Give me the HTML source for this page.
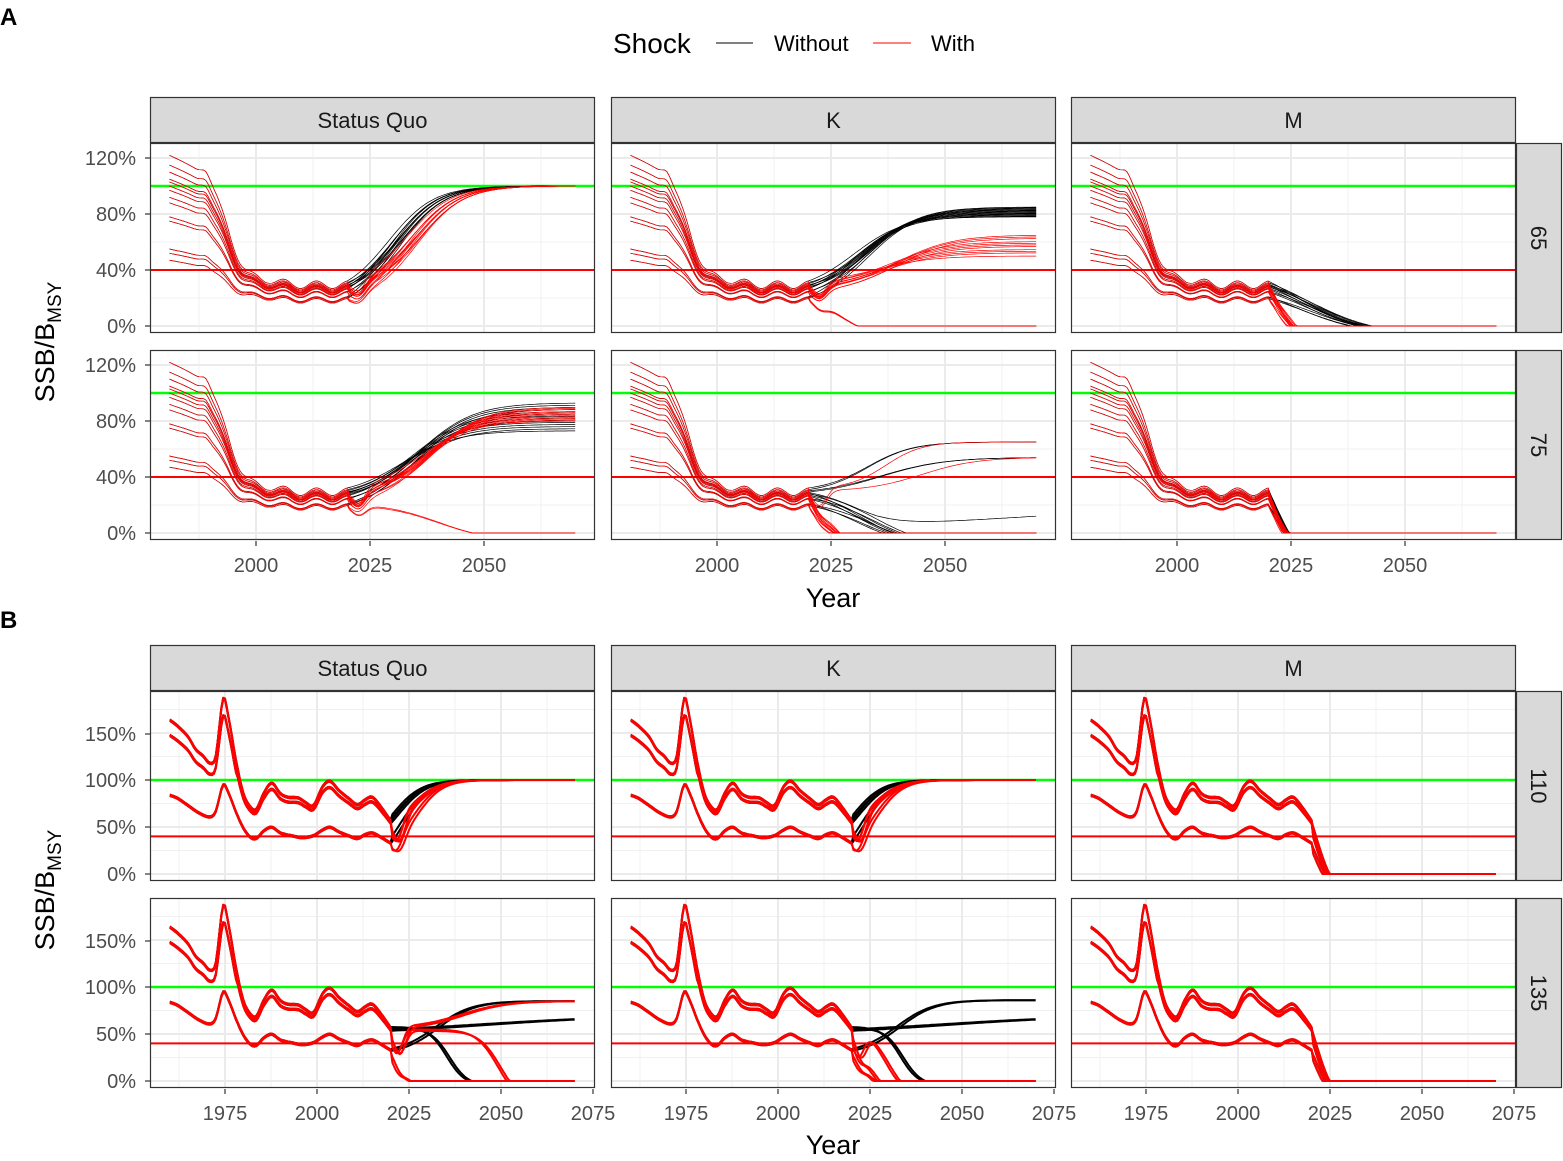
<!DOCTYPE html>
<html><head><meta charset="utf-8">
<style>
html,body{margin:0;padding:0;background:#fff;}
svg text{font-family:"Liberation Sans",Arial,sans-serif;}
</style></head>
<body>
<svg id="s" width="1563" height="1156" viewBox="0 0 1563 1156" xmlns="http://www.w3.org/2000/svg">
<text x="0" y="25" font-size="24" font-weight="bold">A</text>
<text x="0" y="628" font-size="24" font-weight="bold">B</text>
<text x="613" y="53" font-size="28">Shock</text>
<line x1="716" y1="43" x2="753" y2="43" stroke="#000" stroke-width="1"/>
<text x="774" y="51" font-size="22">Without</text>
<line x1="873" y1="43" x2="911" y2="43" stroke="#f00" stroke-width="1"/>
<text x="931" y="51" font-size="22">With</text>
<text x="833" y="607" font-size="27" text-anchor="middle">Year</text>
<text x="833" y="1154" font-size="27" text-anchor="middle">Year</text>
<text transform="translate(54,342) rotate(-90)" font-size="27" text-anchor="middle">SSB/B<tspan font-size="19" dy="7">MSY</tspan></text>
<text transform="translate(54,890) rotate(-90)" font-size="27" text-anchor="middle">SSB/B<tspan font-size="19" dy="7">MSY</tspan></text>
<g id="g"></g>
</svg>
<script>
(function(){
var NS="http://www.w3.org/2000/svg",G=document.getElementById('g');
function el(t,a,txt){var e=document.createElementNS(NS,t);for(var k in a)e.setAttribute(k,a[k]);if(txt!==undefined)e.textContent=txt;G.appendChild(e);return e;}
var cols=[150,611,1071],W=445,H=190;
var names=["Status Quo","K","M"];
function L(t,tm,s){return 1/(1+Math.exp(-(t-tm)/s));}
function proj(t,V0,target,tm,s,dip){var L0=L(2020,tm,s);var f=(L(t,tm,s)-L0)/(1-L0);var v=V0+(target-V0)*f;if(dip)v-=dip*V0*Math.exp(-Math.pow((t-2022.5)/2.2,2));return Math.max(0,v);}
function catmull(pts,t){var i=0;while(i<pts.length-2&&t>pts[i+1][0])i++;var p0=pts[Math.max(0,i-1)],p1=pts[i],p2=pts[i+1],p3=pts[Math.min(pts.length-1,i+2)];var u=(t-p1[0])/(p2[0]-p1[0]);var m1=(p2[1]-p0[1])/(p2[0]-p0[0])*(p2[0]-p1[0]),m2=(p3[1]-p1[1])/(p3[0]-p1[0])*(p2[0]-p1[0]);var u2=u*u,u3=u2*u;return (2*u3-3*u2+1)*p1[1]+(u3-2*u2+u)*m1+(-2*u3+3*u2)*p2[1]+(u3-u2)*m2;}

function panel(x0,ty,isA){
  el('rect',{x:x0,y:ty,width:W,height:H,fill:'#fff'});
  var xf,yf,maj,minr,ymaj,ymin;
  if(isA){xf=function(y){return x0+(y-1976.75)*4.56};yf=function(v){return ty+183-v*1.4};
    maj=[2000,2025,2050];minr=[1987.5,2012.5,2037.5,2062.5];ymaj=[0,40,80,120];ymin=[20,60,100];}
  else{xf=function(y){return x0+(y-1954.62)*3.68};yf=function(v){return ty+183-v*0.94};
    maj=[1975,2000,2025,2050];minr=[1962.5,1987.5,2012.5,2037.5,2062.5];ymaj=[0,50,100,150];ymin=[25,75,125,175];}
  minr.forEach(function(y){el('line',{x1:xf(y),x2:xf(y),y1:ty,y2:ty+H,stroke:'#f0f0f0','stroke-width':1});});
  ymin.forEach(function(v){el('line',{x1:x0,x2:x0+W,y1:yf(v),y2:yf(v),stroke:'#f0f0f0','stroke-width':1});});
  maj.forEach(function(y){el('line',{x1:xf(y),x2:xf(y),y1:ty,y2:ty+H,stroke:'#ebebeb','stroke-width':2});});
  ymaj.forEach(function(v){el('line',{x1:x0,x2:x0+W,y1:yf(v),y2:yf(v),stroke:'#ebebeb','stroke-width':2});});
  el('line',{x1:x0,x2:x0+W,y1:yf(100),y2:yf(100),stroke:'#00ff00','stroke-width':2.5});
  el('line',{x1:x0,x2:x0+W,y1:yf(40),y2:yf(40),stroke:'#ff0000','stroke-width':2});
  return {xf:xf,yf:yf};
}
function poly(f,series,color,w){var p=[];series.forEach(function(d){p.push(f.xf(d[0]).toFixed(1)+','+f.yf(d[1]).toFixed(1));});
  el('polyline',{points:p.join(' '),fill:'none',stroke:color,'stroke-width':w,'stroke-linejoin':'round'});}

var S=[122,115,110,105,103,100,97,92,88,78,75,55,52,47];
function histA(i,t){var s=S[i],P=12+s*0.17;var hi=s*(1-0.012*(t-1981))+4*Math.exp(-Math.pow((t-1989)/1.3,2))*(s/100);
  var sm=L(t,1994,1.8);var v=P+(hi-P)*(1-sm);
  v+=sm*(2.5*Math.sin(2*Math.PI*(t-1997.5)/7)*(P/30)+(t>2003?-3*(P/30)*Math.min(1,(t-2003)/5):0));
  return v;}
function rA(i){return ((i*37)%14)/13;}
var specA={
 '0_0':function(i,sh,V0,t){var r=rA(i);return sh?proj(t,V0,100,2033+3*r,5,0.3):proj(t,V0,100,2029+3*r,5,0);},
 '0_1':function(i,sh,V0,t){var r=rA(i);if(!sh)return proj(t,V0,78+7*r,2030+4*r,5.5,0);
   if(i>=11)return proj(t,V0,-8,2026,4,0.25);return proj(t,V0,50+15*r,2035+5*r,6,0.3);},
 '0_2':function(i,sh,V0,t){var r=rA(i);return sh?proj(t,V0,-20,2022+2*r,3,0.1):proj(t,V0,-6,2026+4*r,7,0);},
 '1_0':function(i,sh,V0,t){var r=rA(i);if(!sh)return proj(t,V0,73+20*r,2032+4*r,6,0);
   if(i>=12)return proj(t,V0,-6,2040,6,0.35);return proj(t,V0,80+10*r,2036+3*r,5.5,0.35);},
 '1_1':function(i,sh,V0,t){var r=rA(i);if(!sh){if(i<2)return proj(t,V0,65,2033,5,0);if(i<4)return proj(t,V0,54,2036,7,0);if(i==4)return proj(t,V0,5,2030,5,0)+Math.max(0,(t-2035)*0.2);return proj(t,V0,-10,2030+5*r,6,0);}
   if(i==0)return proj(t,V0,65,2037,4,0.4);if(i==2)return proj(t,V0,54,2045,6,0.4);return proj(t,V0,-15,2022+2*r,3,0.2);},
 '1_2':function(i,sh,V0,t){var r=rA(i);return proj(t,V0,-20,2021+1.5*r,2.5,sh?0.1:0);}
};
for(var row=0;row<2;row++){for(var c=0;c<3;c++){
  var ty=[143,350][row],x0=cols[c];var f=panel(x0,ty,true);var fn=specA[row+'_'+c];
  ['#000','#f00'].forEach(function(col,sh){for(var i=0;i<14;i++){var pts=[];for(var t=1981;t<=2070.01;t+=0.5){var v;if(t<=2020)v=histA(i,t);else v=fn(i,sh,histA(i,2020),t);pts.push([t,v]);}poly(f,pts,col,0.7);}});
  el('rect',{x:x0+0.5,y:ty+0.5,width:W-1,height:H-1,fill:'none',stroke:'#333','stroke-width':1.2});
}}
var topK=[[1960,163],[1962,157],[1965,145],[1967,132],[1969,125],[1971,117],[1972.5,125],[1974.5,186],[1976,165],[1978,120],[1980,85],[1982,70],[1983.5,68],[1985.5,85],[1987.7,96],[1990,85],[1992,81],[1995,80],[1997,75],[1999,72],[2001.5,92],[2003.5,98],[2006,88],[2008.5,80],[2011,73],[2013,78],[2015,81],[2017.5,70],[2020,56]];
var lowK=[[1960,83],[1962,80],[1965,72],[1968,64],[1971,60],[1972.5,66],[1974.5,94],[1976,85],[1978,65],[1980,48],[1982,38],[1983.5,37],[1985.5,45],[1987.7,49],[1990,43],[1993,40],[1996,38],[1999,40],[2001.5,46],[2003.5,49],[2006,44],[2008.5,40],[2011,37],[2013,41],[2015,43],[2017.5,38],[2020,32]];
function histB(k,t){if(k==0)return catmull(topK,t);if(k==1)return catmull(topK,t)*0.9+(t>1978?3:0);return catmull(lowK,t);}
var specB={
 '0_0':function(k,sh,V0,t){return sh?proj(t,V0,100,2027,3.5,0.45):proj(t,V0,100,2021+k,4,0);},
 '0_2':function(k,sh,V0,t){return proj(t,V0,-30,2020.5,3,0);},
 '1_0':function(k,sh,V0,t){if(!sh){if(k==0)return proj(t,V0,-5,2036,2.5,0);if(k==1)return proj(t,V0,70,2045,20,0);return proj(t,V0,85,2033,5,0);}
   if(k==0)return proj(t,V0,85,2040,6,0.5);if(k==1)return proj(t,V0,-25,2050,3,0.45);return proj(t,V0,-15,2023,2.5,0.3);},
 '1_1':function(k,sh,V0,t){if(!sh){if(k==0)return proj(t,V0,-5,2034,2.5,0);if(k==1)return proj(t,V0,70,2045,20,0);return proj(t,V0,86,2033,5,0);}
   if(k==0)return proj(t,V0,-20,2030,3,0.5);return proj(t,V0,-15,2024,2.5,0.3);},
 '1_2':function(k,sh,V0,t){return proj(t,V0,-30,2020.5,3,0);}
};
specB['0_1']=specB['0_0'];
for(var row=0;row<2;row++){for(var c=0;c<3;c++){
  var ty=[691,898][row],x0=cols[c];var f=panel(x0,ty,false);
  var fn=specB[row+'_'+c];
  ['#000','#f00'].forEach(function(col,sh){for(var k=0;k<3;k++){for(var d=0;d<2;d++){var off=d*1.5;var pts=[];for(var t=1960;t<=2070.01;t+=0.5){var v;if(t<=2020)v=histB(k,t)+off;else v=fn(k,sh,histB(k,2020)+off,t+d*0.8);pts.push([t,v]);}poly(f,pts,col,2);}}});
  el('rect',{x:x0+0.5,y:ty+0.5,width:W-1,height:H-1,fill:'none',stroke:'#333','stroke-width':1.2});
}}
function strips(y){cols.forEach(function(x0,c){el('rect',{x:x0+0.5,y:y+0.5,width:W-1,height:45,fill:'#d9d9d9',stroke:'#333','stroke-width':1.2});
  el('text',{x:x0+W/2,y:y+31,'font-size':22,'text-anchor':'middle',fill:'#1a1a1a'},names[c]);});}
strips(97);strips(645);
function rstrip(ty,lab){el('rect',{x:1516.5,y:ty+0.5,width:45,height:H-1,fill:'#d9d9d9',stroke:'#333','stroke-width':1.2});
  el('text',{x:0,y:0,'font-size':22,'text-anchor':'middle',fill:'#1a1a1a',transform:'translate(1531,'+(ty+H/2)+') rotate(90)'},lab);}
rstrip(143,'65');rstrip(350,'75');rstrip(691,'110');rstrip(898,'135');
function yt(arr){arr.forEach(function(a){el('text',{x:136,y:a[1]+7,'font-size':20,'text-anchor':'end',fill:'#4d4d4d'},a[0]);el('line',{x1:145,x2:150,y1:a[1],y2:a[1],stroke:'#333','stroke-width':1.2});});}
yt([['120%',158],['80%',214],['40%',270],['0%',326],['120%',365],['80%',421],['40%',477],['0%',533]]);
yt([['150%',734],['100%',780],['50%',827],['0%',874],['150%',941],['100%',987],['50%',1034],['0%',1081]]);
cols.forEach(function(x0){[[2000,106],[2025,220],[2050,334]].forEach(function(a){el('line',{x1:x0+a[1],x2:x0+a[1],y1:541,y2:546,stroke:'#333','stroke-width':1.2});el('text',{x:x0+a[1],y:572,'font-size':20,'text-anchor':'middle',fill:'#4d4d4d'},a[0]);});
 [[1975,75],[2000,167],[2025,259],[2050,351],[2075,443]].forEach(function(a){el('line',{x1:x0+a[1],x2:x0+a[1],y1:1089,y2:1094,stroke:'#333','stroke-width':1.2});el('text',{x:x0+a[1],y:1120,'font-size':20,'text-anchor':'middle',fill:'#4d4d4d'},a[0]);});});
})();
</script>
</body></html>
